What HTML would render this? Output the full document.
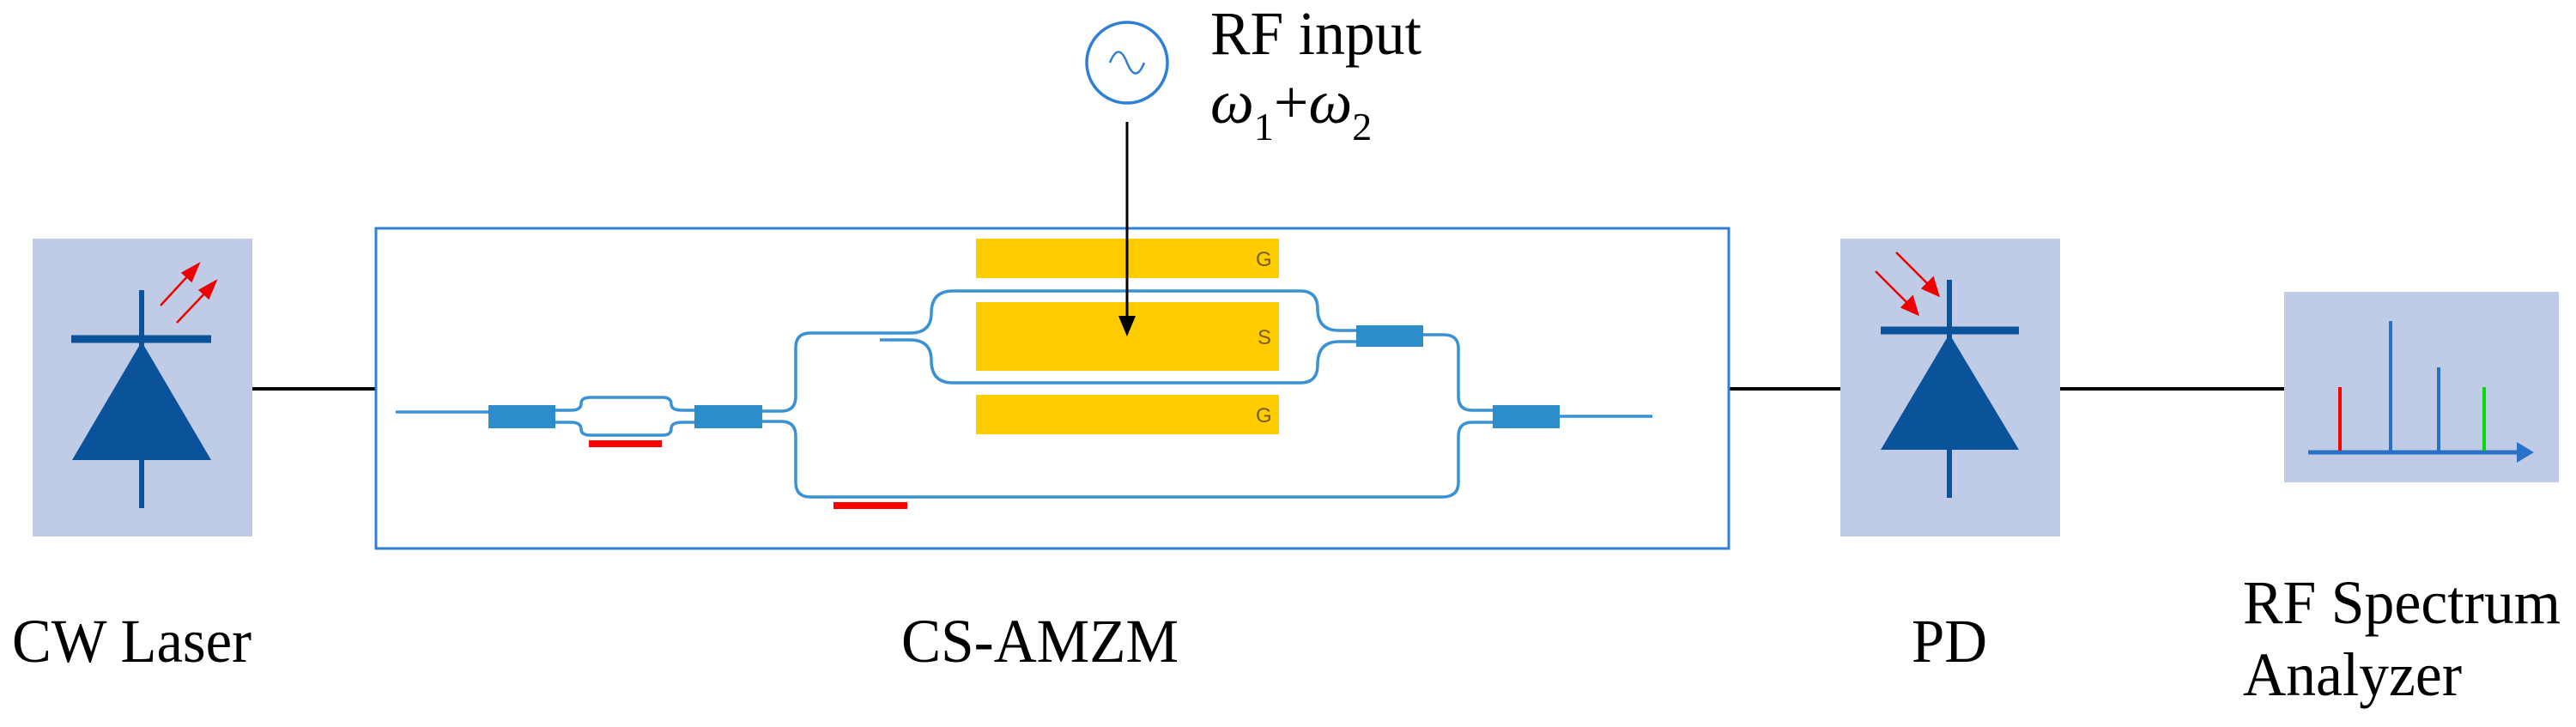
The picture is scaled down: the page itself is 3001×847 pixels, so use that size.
<!DOCTYPE html>
<html><head><meta charset="utf-8"><style>
html,body{margin:0;padding:0;background:#fff;}
svg{display:block;}
text{font-family:"Liberation Serif",serif;fill:#000;}
</style></head><body>
<svg width="3001" height="847" viewBox="0 0 3001 847" xmlns="http://www.w3.org/2000/svg">
<g stroke="#000" stroke-width="4">
<line x1="294" y1="453" x2="437" y2="453"/>
<line x1="2014" y1="453" x2="2144" y2="453"/>
<line x1="2400" y1="453" x2="2661" y2="453"/>
</g>
<!-- CW laser -->
<rect x="38" y="278" width="256" height="347" fill="#c0cbe6"/>
<line x1="165" y1="338" x2="165" y2="592" stroke="#0a5299" stroke-width="6"/>
<line x1="83" y1="395" x2="246" y2="395" stroke="#0a5299" stroke-width="9"/>
<polygon points="165,398 84,536 246,536" fill="#0a5299"/>
<g stroke="#e00" stroke-width="2.5" fill="#e00">
<line x1="187" y1="356" x2="222" y2="318"/><polygon points="231,308 213,318 223,327"/>
<line x1="206" y1="376" x2="242" y2="338"/><polygon points="251,328 233,338 243,347"/>
</g>
<!-- AMZM frame -->
<rect x="438" y="266" width="1576" height="373" fill="none" stroke="#2e7fd6" stroke-width="3"/>
<g fill="#ffcc00">
<rect x="1137" y="278" width="353" height="46"/>
<rect x="1137" y="352" width="353" height="80"/>
<rect x="1137" y="460" width="353" height="46"/>
</g>
<g>
<text x="1463" y="310" style="font-family:'Liberation Sans',sans-serif;fill:#7a5a00;font-size:24px">G</text>
<text x="1465" y="401" style="font-family:'Liberation Sans',sans-serif;fill:#7a5a00;font-size:24px">S</text>
<text x="1463" y="492" style="font-family:'Liberation Sans',sans-serif;fill:#7a5a00;font-size:24px">G</text>
</g>
<g fill="none" stroke="#3a92d4" stroke-width="3.5">
<path d="M461 480 H569"/>
<path d="M647 478 H665 Q677 478 677 470 Q677 463 688 463 H772 Q782 463 782 471 Q782 478 795 478 H809"/>
<path d="M647 492 H665 Q677 492 677 500 Q677 507 688 507 H772 Q782 507 782 499 Q782 492 795 492 H809"/>
<path d="M888 479 H910 Q927 479 927 462 V405 Q927 388 944 388 H1060 Q1085 388 1085 365 Q1085 339 1110 339 H1515 Q1535 339 1535 360 Q1535 385 1560 385 H1580"/>
<path d="M1025 396 H1060 Q1085 396 1085 420 Q1085 446 1110 446 H1515 Q1535 446 1535 425 Q1535 398 1560 398 H1580"/>
<path d="M888 491 H910 Q927 491 927 508 V562 Q927 579 944 579 H1680 Q1699 579 1699 562 V508 Q1699 492 1715 492 H1739"/>
<path d="M1658 390 H1682 Q1699 390 1699 406 V462 Q1699 478 1715 478 H1739"/>
<path d="M1817 485 H1925"/>
</g>
<g fill="#2d8ccc">
<rect x="569" y="472" width="78" height="27"/>
<rect x="809" y="472" width="79" height="27"/>
<rect x="1580" y="379" width="78" height="25"/>
<rect x="1739" y="472" width="78" height="27"/>
</g>
<g fill="#f00">
<rect x="686" y="513" width="85" height="8"/>
<rect x="971" y="585" width="86" height="8"/>
</g>
<!-- RF source -->
<circle cx="1313" cy="73" r="47" fill="none" stroke="#2e7fd6" stroke-width="3.5"/>
<path d="M1293 73 Q1303 48 1313 73 Q1323 98 1333 73" fill="none" stroke="#2e7fd6" stroke-width="2.5"/>
<line x1="1313" y1="142" x2="1313" y2="372" stroke="#000" stroke-width="3"/>
<polygon points="1313,392 1303,368 1323,368" fill="#000"/>
<text x="1410" y="63" font-size="72" textLength="246" lengthAdjust="spacingAndGlyphs">RF input</text>
<text x="1410" y="143" font-size="72"><tspan font-style="italic">ω</tspan><tspan font-size="46" dy="20">1</tspan><tspan dy="-20">+</tspan><tspan font-style="italic">ω</tspan><tspan font-size="46" dy="20">2</tspan></text>
<!-- PD -->
<rect x="2144" y="278" width="256" height="347" fill="#c0cbe6"/>
<line x1="2271" y1="326" x2="2271" y2="580" stroke="#0a5299" stroke-width="6"/>
<line x1="2191" y1="385" x2="2352" y2="385" stroke="#0a5299" stroke-width="9"/>
<polygon points="2271,389 2191,524 2352,524" fill="#0a5299"/>
<g stroke="#e00" stroke-width="2.5" fill="#e00">
<line x1="2185" y1="316" x2="2225" y2="356"/><polygon points="2234,366 2228,346 2216,358"/>
<line x1="2209" y1="294" x2="2249" y2="334"/><polygon points="2258,344 2252,324 2240,336"/>
</g>
<!-- Spectrum analyzer -->
<rect x="2661" y="340" width="320" height="222" fill="#c0cbe6"/>
<line x1="2689" y1="527" x2="2935" y2="527" stroke="#2a72c8" stroke-width="5"/>
<polygon points="2952,527 2932,515 2932,539" fill="#2a72c8"/>
<line x1="2726" y1="451" x2="2726" y2="525" stroke="#f00" stroke-width="4"/>
<line x1="2785" y1="374" x2="2785" y2="525" stroke="#2a72c8" stroke-width="4"/>
<line x1="2841" y1="428" x2="2841" y2="525" stroke="#2a72c8" stroke-width="4"/>
<line x1="2894" y1="451" x2="2894" y2="525" stroke="#0d0" stroke-width="4"/>
<!-- labels -->
<text x="14" y="771" font-size="72" textLength="279" lengthAdjust="spacingAndGlyphs">CW Laser</text>
<text x="1050" y="771" font-size="72" textLength="323" lengthAdjust="spacingAndGlyphs">CS-AMZM</text>
<text x="2227" y="771" font-size="72" textLength="88" lengthAdjust="spacingAndGlyphs">PD</text>
<text x="2613" y="726" font-size="72" textLength="370" lengthAdjust="spacingAndGlyphs">RF Spectrum</text>
<text x="2613" y="810" font-size="72" textLength="255" lengthAdjust="spacingAndGlyphs">Analyzer</text>
</svg>
</body></html>
